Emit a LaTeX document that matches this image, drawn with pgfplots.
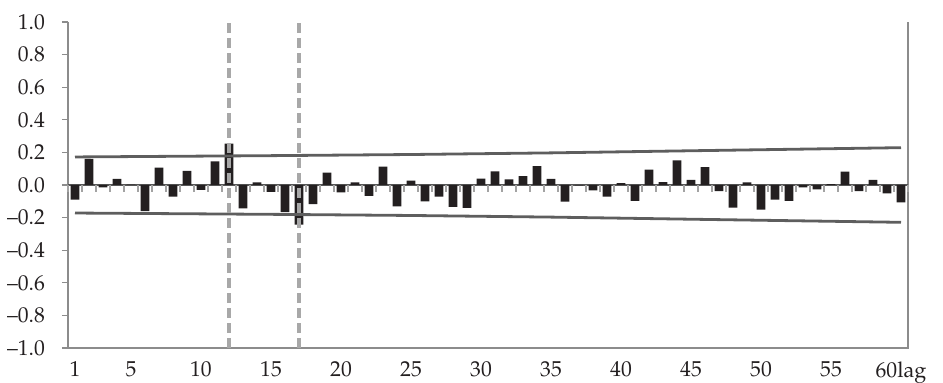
\documentclass[border=0pt]{standalone}
\usepackage{fontspec}
\setmainfont{TeX Gyre Pagella}
\usepackage{pgfplots}
\pgfplotsset{compat=1.18}
\definecolor{barc}{HTML}{231F20}
\definecolor{bandc}{HTML}{5E5E5E}
\definecolor{dashc}{HTML}{A8A8A8}
\definecolor{zeroc}{HTML}{555555}
\definecolor{framec}{HTML}{8C8C8C}
\pgfplotstableread{
lag v
1 -0.090
2 0.160
3 -0.015
4 0.037
5 0.003
6 -0.160
7 0.106
8 -0.072
9 0.086
10 -0.030
11 0.145
12 0.254
13 -0.143
14 0.016
15 -0.043
16 -0.166
17 -0.243
18 -0.117
19 0.076
20 -0.045
21 0.016
22 -0.067
23 0.112
24 -0.131
25 0.027
26 -0.100
27 -0.072
28 -0.135
29 -0.141
30 0.039
31 0.084
32 0.035
33 0.055
34 0.115
35 0.037
36 -0.102
37 -0.003
38 -0.033
39 -0.072
40 0.012
41 -0.098
42 0.094
43 0.018
44 0.151
45 0.031
46 0.110
47 -0.037
48 -0.139
49 0.016
50 -0.151
51 -0.090
52 -0.098
53 -0.014
54 -0.027
55 0.006
56 0.082
57 -0.037
58 0.031
59 -0.051
60 -0.106
}\acf
\pgfplotstableread{
lag up lo
1 0.172 -0.172
15 0.180 -0.180
25 0.187 -0.187
35 0.197 -0.197
45 0.210 -0.210
60 0.229 -0.229
}\band
\begin{document}
\begin{tikzpicture}
\begin{axis}[
  anchor=south west, at={(0,0)},
  scale only axis, width=420pt, height=163pt,
  xmin=0.5, xmax=60.5, ymin=-1, ymax=1,
  clip=false,
  axis line style={draw=none},
  xtick={1,5,10,15,20,25,30,35,40,45,50,55,60},
  xticklabels={1,5,10,15,20,25,30,35,40,45,50,55,60lag},
  x tick style={draw=none},
  ytick={-1,-0.8,-0.6,-0.4,-0.2,0,0.2,0.4,0.6,0.8,1},
  yticklabels={–1.0,–0.8,–0.6,–0.4,–0.2,0.0,0.2,0.4,0.6,0.8,1.0},
  ytick pos=left,
  y tick style={framec, line width=0.6pt},
  tick align=outside,
  major tick length=3pt,
  yticklabel style={xshift=-5pt},
  xticklabel style={yshift=-0.3pt},
  tick label style={font=\fontsize{10.8}{13}\selectfont, text=barc},
]
\draw[framec, line width=0.6pt] (rel axis cs:0,1) -- (rel axis cs:0,0) -- (rel axis cs:1,0) -- (rel axis cs:1,1);
\draw[zeroc, line width=1pt] (axis cs:0.5,0) -- (axis cs:60.5,0);
\pgfplotsinvokeforeach{0.5,1.5,...,60.5}{\draw[framec!80, line width=0.6pt] (axis cs:#1,0) -- (axis cs:#1,-0.043);}
\addplot[ybar, bar width=0.64, fill=barc, draw=none] table[x=lag, y=v] {\acf};
\addplot[bandc, line width=1.4pt, no marks] table[x=lag, y=up] {\band};
\addplot[bandc, line width=1.4pt, no marks] table[x=lag, y=lo] {\band};
\draw[dashc, line width=1.8pt, dash pattern=on 5pt off 2.5pt] (axis cs:12,-1) -- (axis cs:12,1);
\draw[dashc, line width=1.8pt, dash pattern=on 5pt off 2.5pt] (axis cs:17,-1) -- (axis cs:17,1);
\end{axis}
\pgfresetboundingbox
\path (-34pt,-17.5pt) rectangle (437.5pt,174pt);
\end{tikzpicture}
\end{document}
